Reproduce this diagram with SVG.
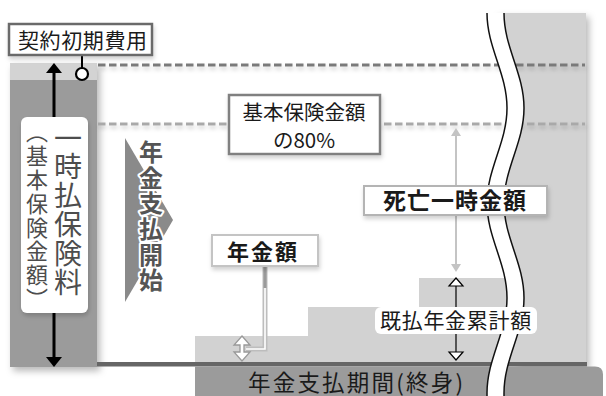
<svg xmlns="http://www.w3.org/2000/svg" width="606" height="396" viewBox="0 0 606 396">
<defs>
<filter id="sh" x="-20%" y="-20%" width="150%" height="150%">
<feDropShadow dx="3" dy="4" stdDeviation="3.5" flood-color="#000" flood-opacity="0.28"/>
</filter>
<filter id="shs" x="-10%" y="-50%" width="120%" height="250%">
<feDropShadow dx="1" dy="3" stdDeviation="2" flood-color="#000" flood-opacity="0.18"/>
</filter>
</defs>
<style>
text{font-family:"Noto Sans CJK JP","Noto Sans CJK SC",sans-serif;}
.lbl{fill:#1a1a1a;}
.bold{font-weight:bold;}
.dash{fill:none;stroke-width:3;stroke-dasharray:7.5 3.5;}
.vert{writing-mode:vertical-rl;}
.box{fill:#fff;}
.garrow{fill:#c4c4c4;}
.hollow{fill:#fff;stroke:#000;stroke-width:1.2;}
</style>
<rect width="606" height="396" fill="#fff"/>

<!-- right gray region -->
<path d="M586,13 L495.5,13 C495.5,47.6 515.5,73.4 515.5,108 C515.5,142.6 495.5,168.4 495.5,203 C495.5,237.6 515.5,263.4 515.5,298 L515.5,366 L586,366 Z" fill="#d2d2d2" filter="url(#sh)"/>

<!-- staircase -->
<path d="M195,362 V336 H308 V307 H419 V278 H586 V362 Z" fill="#d2d2d2"/>

<!-- left column -->
<g id="column" filter="url(#sh)">
<rect x="10" y="63" width="87" height="304" fill="#9b9b9b"/>
<rect x="10" y="63" width="87" height="17" fill="#d3d3d3"/>
</g>

<!-- dashed lines -->
<g id="dashes" filter="url(#shs)">
<line x1="98" y1="65" x2="585" y2="65" class="dash" stroke="#7a7a7a"/>
<line x1="98" y1="124" x2="585" y2="124" class="dash" stroke="#a9a9a9"/>
</g>

<!-- baseline and bottom bar -->
<rect x="97" y="362" width="490" height="4.5" fill="#666"/>
<g id="period">
<path d="M195,366.5 H595 Q603,366.5 603,374.5 V396 H195 Z" fill="#9b9b9b"/>
<text x="248" y="390.5" font-size="22.5" textLength="215" lengthAdjust="spacing" class="lbl">年金支払期間(終身)</text>
</g>

<!-- wavy break -->
<g id="break">
<path d="M487,13 C487,47.6 507,73.4 507,108 C507,142.6 487,168.4 487,203 C487,237.6 507,263.4 507,298 C507,332.6 487,358.4 487,393 L487,397 L504,397 L504,393 C504,358.4 524,332.6 524,298 C524,263.4 504,237.6 504,203 C504,168.4 524,142.6 524,108 C524,73.4 504,47.6 504,13 Z" fill="#fff"/>
<path d="M487,13 C487,47.6 507,73.4 507,108 C507,142.6 487,168.4 487,203 C487,237.6 507,263.4 507,298 C507,332.6 487,358.4 487,393 L487,397" fill="none" stroke="#111" stroke-width="1.5"/>
<path d="M504,13 C504,47.6 524,73.4 524,108 C524,142.6 504,168.4 504,203 C504,237.6 524,263.4 524,298 C524,332.6 504,358.4 504,393 L504,397" fill="none" stroke="#111" stroke-width="1.5"/>
</g>

<!-- connectors -->
<g id="connectors">
<!-- premium double arrow -->
<line x1="54" y1="71" x2="54" y2="359" stroke="#000" stroke-width="3"/>
<path d="M54,63 L62,73 L46,73 Z" fill="#000"/>
<path d="M54,367 L62,357 L46,357 Z" fill="#000"/>
<!-- contract cost pointer -->
<line x1="82" y1="55" x2="82" y2="68" stroke="#000" stroke-width="2"/>
<circle cx="82" cy="74" r="6" fill="#fff" stroke="#000" stroke-width="2.2"/>
<!-- death benefit gray lines -->
<line x1="456" y1="135" x2="456" y2="185" stroke="#c4c4c4" stroke-width="2"/>
<path d="M456,128 L461,136 L451,136 Z" class="garrow"/>
<line x1="456" y1="215" x2="456" y2="265" stroke="#c4c4c4" stroke-width="2"/>
<path d="M456,272 L461,264 L451,264 Z" class="garrow"/>
<!-- paid cumulative arrow -->
<line x1="456" y1="285" x2="456" y2="353" stroke="#000" stroke-width="1.2"/>
<path d="M456,278 L463,286 L449,286 Z" class="hollow"/>
<path d="M456,360 L463,352 L449,352 Z" class="hollow"/>
<!-- annuity amount connector -->
<path d="M265,267 V349 H246" fill="none" stroke="#bdbdbd" stroke-width="5"/>
<path d="M265,267 V349 H246" fill="none" stroke="#fff" stroke-width="1.6"/>
<line x1="265" y1="267" x2="265" y2="288" stroke="#9a9a9a" stroke-width="3"/>
<path d="M242,336 L250,345 L244,345 L244,352 L250,352 L242,361 L234,352 L240,352 L240,345 L234,345 Z" fill="#fff" stroke="#999" stroke-width="1.3"/>
</g>

<!-- payment start -->
<g id="start">
<path d="M125,138 L173,220 L125,302 Z" fill="#8a8a8a"/>
<text x="151" y="140" font-size="24" class="vert bold" fill="#555" stroke="#fff" stroke-width="4" stroke-linejoin="round" paint-order="stroke" letter-spacing="1.6">年金支払開始</text>
</g>

<!-- premium box -->
<g id="premium">
<rect x="21" y="117" width="67" height="196" rx="6" class="box" filter="url(#shs)"/>
<text x="68" y="124" font-size="28" class="vert" fill="#4d4d4d" letter-spacing="0.8">一時払保険料</text>
<text x="37" y="121" font-size="22" class="vert" fill="#4d4d4d" letter-spacing="1.8">（基本保険金額）</text>
</g>

<!-- contract cost label -->
<g id="cost">
<rect x="9" y="24" width="143" height="31" class="box" stroke="#6b6b6b" stroke-width="2.5" filter="url(#shs)"/>
<text x="18" y="48" font-size="21" letter-spacing="0.6" class="lbl">契約初期費用</text>
</g>

<!-- 80% label -->
<g id="eighty">
<rect x="229" y="95" width="151" height="59" class="box" stroke="#808080" stroke-width="2.5" filter="url(#shs)"/>
<text x="304" y="120" font-size="20.5" text-anchor="middle" class="lbl">基本保険金額</text>
<text x="304" y="148" font-size="20.5" text-anchor="middle" class="lbl">の80%</text>
</g>

<!-- death benefit label -->
<g id="death">
<rect x="364" y="186" width="183" height="29" class="box" stroke="#b4b4b4" stroke-width="2" filter="url(#shs)"/>
<text x="383" y="209" font-size="23" letter-spacing="1" class="lbl bold">死亡一時金額</text>
</g>

<!-- annuity amount label -->
<g id="annuity">
<rect x="212" y="235" width="106" height="31" class="box" stroke="#c4c4c4" stroke-width="2" filter="url(#shs)"/>
<text x="227" y="260" font-size="22" letter-spacing="2" class="lbl bold">年金額</text>
</g>

<!-- cumulative label -->
<g id="cumulative">
<rect x="375" y="307" width="162" height="27" rx="6" class="box"/>
<text x="380" y="328" font-size="21" letter-spacing="0.7" class="lbl">既払年金累計額</text>
</g>
</svg>
